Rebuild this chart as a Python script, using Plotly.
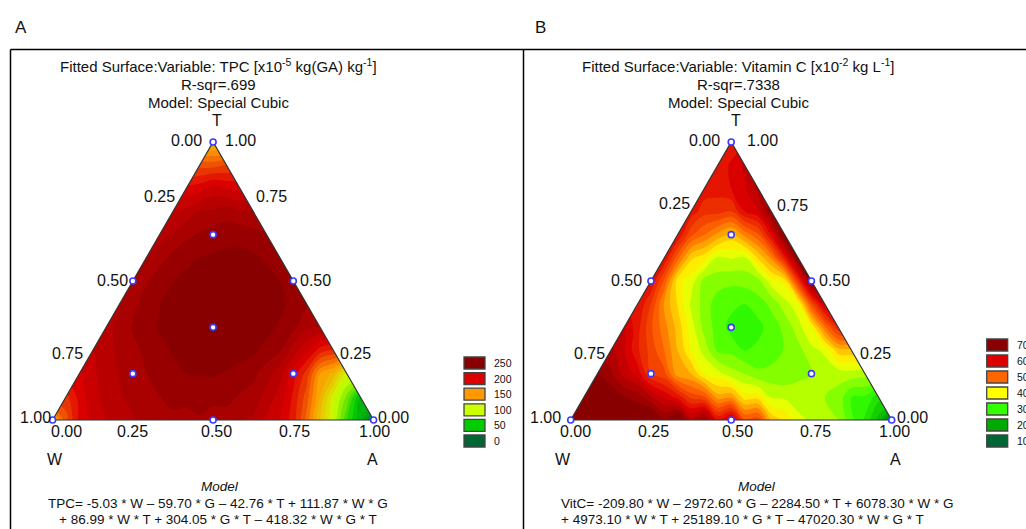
import math
import plotly.graph_objects as go

# ---------------- data ----------------
N = 12  # lattice: T = i/12 (row), A = j/12 (column), W = 1 - T - A
TPC_ROWS = [
    [140, 203, 220, 229, 234, 236, 235, 230, 218, 195, 130, 60, 5],
    [186, 217, 229, 238, 243, 245, 243, 236, 216, 175, 105, 40],
    [208, 226, 235, 244, 250, 251, 247, 235, 205, 150, 105],
    [220, 232, 242, 251, 256, 256, 252, 241, 212, 188],
    [227, 241, 251, 258, 259, 258, 254, 243, 230],
    [230, 246, 255, 259, 259, 258, 253, 242],
    [232, 246, 254, 257, 258, 254, 247],
    [230, 243, 250, 253, 252, 246],
    [226, 238, 245, 247, 242],
    [219, 231, 236, 232],
    [203, 214, 208],
    [176, 180],
    [135],
]
VITC_ROWS = [
    [72, 74, 75, 75, 74, 70, 64, 54, 42, 37, 35, 27, 12],
    [72, 72, 69, 62, 54, 46, 41, 37, 36, 35, 30, 26],
    [70, 64, 55, 46, 40, 36, 33, 33, 35, 36, 36],
    [66, 58, 50, 40, 32, 30, 31, 34, 38, 44],
    [63, 53, 44, 34, 29, 29, 33, 40, 57],
    [60, 47, 37, 31, 30, 33, 39, 63],
    [60, 41, 34, 33, 34, 41, 70],
    [60, 43, 37, 37, 48, 72],
    [60, 50, 44, 52, 72],
    [59, 56, 60, 70],
    [59, 60, 66],
    [59, 63],
    [59],
]

DESIGN_A = [0, 1, 0, 0.5, 0, 0.5, 1 / 3, 1 / 6, 2 / 3, 1 / 6]
DESIGN_T = [0, 0, 1, 0, 0.5, 0.5, 1 / 3, 1 / 6, 1 / 6, 2 / 3]

TICKS = [0.0, 0.25, 0.5, 0.75, 1.0]
TICK_TEXT = ["0.00", "0.25", "0.50", "0.75", "1.00"]

LEG_A_LEVELS = [250, 200, 150, 100, 50, 0]
LEG_A_COLORS = ["#880000", "#dd0000", "#ff9900", "#ccff00", "#00cc00", "#006633"]
LEG_B_LEVELS = [70, 60, 50, 40, 30, 20, 10]
LEG_B_COLORS = ["#880000", "#dd0000", "#ff6600", "#ffff00", "#33ff00", "#00aa00", "#006633"]

TITLE_A = ["Fitted Surface:Variable: TPC [x10<sup>-5</sup> kg(GA) kg<sup>-1</sup>]",
           "R-sqr=.699", "Model: Special Cubic"]
TITLE_B = ["Fitted Surface:Variable: Vitamin C [x10<sup>-2</sup> kg L<sup>-1</sup>]",
           "R-sqr=.7338", "Model: Special Cubic"]
EQ_A = ["TPC= -5.03 * W – 59.70 * G – 42.76 * T + 111.87 * W * G",
        "+ 86.99 * W * T + 304.05 * G * T – 418.32 * W * G * T"]
EQ_B = ["VitC= -209.80 * W – 2972.60 * G – 2284.50 * T + 6078.30 * W * G",
        "+ 4973.10 * W * T + 25189.10 * G * T – 47020.30 * W * G * T"]

# ---------------- layout constants (pixels) ----------------
FW, FH = 1026, 529
S = 321.0                 # px per unit composition
ORIG_A = (52.6, 420.0)    # W corner of panel A
ORIG_B = (570.7, 420.0)   # W corner of panel B
H = math.sqrt(3) / 2
FONT = "Liberation Sans, Arial, Helvetica, sans-serif"


def to_xy(a, t):
    return a + t / 2.0, t * H


def lattice(rows):
    """Lattice nodes of the triangle; the area outside the triangle (hidden by
    white masks) is padded with the row's edge value so that plotly's own gap
    filling only works inside the triangle."""
    xs, ys, zs = [], [], []
    for i, row in enumerate(rows):
        y = i * H / N
        first = i                       # half-step index of leftmost node
        last = 2 * (len(row) - 1) + i   # half-step index of rightmost node
        for k in range(0, first):
            xs.append(k / (2.0 * N)); ys.append(y); zs.append(row[0])
        for j, v in enumerate(row):
            xs.append((2 * j + i) / (2.0 * N)); ys.append(y); zs.append(v)
        for k in range(last + 1, 2 * N + 1):
            xs.append(k / (2.0 * N)); ys.append(y); zs.append(row[-1])
    return xs, ys, zs


def cscale(levels, colors):
    lo, hi = min(levels), max(levels)
    return [[(v - lo) / (hi - lo), c] for v, c in sorted(zip(levels, colors))]


def px_x(px):
    return px / FW


def px_y(py):
    return 1 - py / FH


fig = go.Figure()

panels = [
    dict(rows=TPC_ROWS, xa="x", ya="y", levels=LEG_A_LEVELS, colors=LEG_A_COLORS,
         start=0, end=250, size=10, orig=ORIG_A),
    dict(rows=VITC_ROWS, xa="x2", ya="y2", levels=LEG_B_LEVELS, colors=LEG_B_COLORS,
         start=10, end=70, size=2.5, orig=ORIG_B),
]

wx, wy = to_xy(0, 0)
ax_, ay_ = to_xy(1, 0)
tx, ty = to_xy(0, 1)
e = 0.02

for p in panels:
    xs, ys, zs = lattice(p["rows"])
    fig.add_trace(go.Contour(
        x=xs, y=ys, z=zs, xaxis=p["xa"], yaxis=p["ya"],
        colorscale=cscale(p["levels"], p["colors"]),
        autocontour=False,
        contours=dict(start=p["start"], end=p["end"], size=p["size"],
                      coloring="fill", showlines=False),
        line=dict(width=0, smoothing=1.0),
        connectgaps=True, showscale=False, hoverinfo="skip",
    ))
    # white masks outside the triangle
    fig.add_trace(go.Scatter(
        x=[wx, tx, tx, wx - e, wx - e, wx], y=[wy, ty, ty + e, ty + e, wy - e, wy],
        xaxis=p["xa"], yaxis=p["ya"], mode="lines", fill="toself",
        fillcolor="white", line=dict(width=0, color="white"), hoverinfo="skip",
        showlegend=False))
    fig.add_trace(go.Scatter(
        x=[ax_, tx, tx, ax_ + e, ax_ + e, ax_], y=[ay_, ty, ty + e, ty + e, ay_ - e, ay_],
        xaxis=p["xa"], yaxis=p["ya"], mode="lines", fill="toself",
        fillcolor="white", line=dict(width=0, color="white"), hoverinfo="skip",
        showlegend=False))
    # triangle outline
    fig.add_trace(go.Scatter(
        x=[wx, ax_, tx, wx], y=[wy, ay_, ty, wy], xaxis=p["xa"], yaxis=p["ya"],
        mode="lines", line=dict(color="#333333", width=1.2), hoverinfo="skip",
        showlegend=False))
    # design points
    dx = [to_xy(a, t)[0] for a, t in zip(DESIGN_A, DESIGN_T)]
    dy = [to_xy(a, t)[1] for a, t in zip(DESIGN_A, DESIGN_T)]
    fig.add_trace(go.Scatter(
        x=dx, y=dy, xaxis=p["xa"], yaxis=p["ya"], mode="markers",
        marker=dict(symbol="circle", size=6, color="white",
                    line=dict(color="#3a3aff", width=1.6)),
        hoverinfo="skip", showlegend=False))


def xrange_for(orig, d0, d1):
    return [(d0 * FW - orig[0]) / S, (d1 * FW - orig[0]) / S]


yr = [(ORIG_A[1] - FH) / S, ORIG_A[1] / S]
common = dict(visible=False, showgrid=False, zeroline=False, fixedrange=True)
fig.update_layout(
    xaxis=dict(domain=[0, 0.5], range=xrange_for(ORIG_A, 0, 0.5), **common),
    yaxis=dict(domain=[0, 1], range=yr, anchor="x", **common),
    xaxis2=dict(domain=[0.5, 1], range=xrange_for(ORIG_B, 0.5, 1), **common),
    yaxis2=dict(domain=[0, 1], range=yr, anchor="x2", **common),
)

ann = []
TICK_FONT = dict(family=FONT, size=16, color="#111")

# per-label offsets (px) as Statistica places them
LEFT_SHIFT = {"x": [(-9, 2), (4, 15), (-3, 1), (-8, -3), (0, 2.5)],
              "x2": [(-9, 2), (1, 8), (-7, 1), (-4, -3), (-8, 3)]}
RIGHT_SHIFT = {"x": [(10, 2), (1, 15), (5, 1), (5, -3), (2, 3)],
               "x2": [(14, 2), (4, 6.5), (6, 1), (6, -3), (3, 3)]}
BOTTOM_SHIFT = {"x": [14, 0, 3, 1, 1], "x2": [5, 3, 6, 4, 3]}

for p in panels:
    xr, yrf = p["xa"], p["ya"]
    for k, (v, txt) in enumerate(zip(TICKS, TICK_TEXT)):
        # left edge: W axis (W = v  -> T = 1 - v, A = 0)
        lx, ly = to_xy(0, 1 - v)
        sx, sy = LEFT_SHIFT[xr][k]
        ann.append(dict(x=lx, y=ly, xref=xr, yref=yrf, text=txt, showarrow=False,
                        xanchor="right", yanchor="middle", xshift=sx, yshift=sy,
                        font=TICK_FONT))
        # right edge: T axis (T = 1 - v listed from top)
        tv = 1 - v
        rx, ry = to_xy(1 - tv, tv)
        sx, sy = RIGHT_SHIFT[xr][k]
        ann.append(dict(x=rx, y=ry, xref=xr, yref=yrf, text=TICK_TEXT[len(TICKS) - 1 - k],
                        showarrow=False, xanchor="left", yanchor="middle",
                        xshift=sx, yshift=sy, font=TICK_FONT))
        # bottom edge: A axis
        bx, by = to_xy(v, 0)
        ann.append(dict(x=bx, y=by, xref=xr, yref=yrf, text=txt, showarrow=False,
                        xanchor="center", yanchor="middle",
                        xshift=BOTTOM_SHIFT[xr][k], yshift=-11, font=TICK_FONT))


def text_px(x, y, txt, size, xanchor="center", italic=False):
    ann.append(dict(x=px_x(x), y=px_y(y), xref="paper", yref="paper", text=txt,
                    showarrow=False, xanchor=xanchor, yanchor="middle",
                    font=dict(family=FONT, size=size, color="#111",
                              style="italic" if italic else "normal")))


# panel letters
text_px(21, 28, "A", 17)
text_px(540, 28, "B", 17)

# titles
for cx, lines, tcx in [(218, TITLE_A, 217), (738, TITLE_B, 736)]:
    for k, line in enumerate(lines):
        text_px(cx, 66 + 18.4 * k, line, 15)
    text_px(tcx, 121, "T", 16)

# corner names
for wxp, axp in [(55, 372), (563, 895)]:
    text_px(wxp, 459, "W", 16)
    text_px(axp, 459, "A", 16)

# equations
text_px(220, 486, "Model", 13.5, italic=True)
text_px(218, 503, EQ_A[0], 13.5)
text_px(218, 519, EQ_A[1], 13.5)
text_px(757, 486, "Model", 13.5, italic=True)
text_px(559, 503, EQ_B[0], 13.5, xanchor="left")
text_px(559, 519, EQ_B[1], 13.5, xanchor="left")

# legends (boxes + labels)
shapes = []
for levels, colors, bx0, pitch in [(LEG_A_LEVELS, LEG_A_COLORS, 464, 15.6),
                                   (LEG_B_LEVELS, LEG_B_COLORS, 986.7, 16.0)]:
    n = len(levels)
    for k, (lv, col) in enumerate(zip(levels, colors)):
        top = 435 - (n - 1 - k) * pitch
        shapes.append(dict(type="rect", xref="paper", yref="paper",
                           x0=px_x(bx0), x1=px_x(bx0 + 21), y0=px_y(top + 12), y1=px_y(top),
                           fillcolor=col, line=dict(color="#444444", width=1.3)))
        ann.append(dict(x=px_x(bx0 + 28), y=px_y(top + 6), xref="paper", yref="paper",
                        text=str(lv), showarrow=False, xanchor="left", yanchor="middle",
                        font=dict(family=FONT, size=10.5, color="#111")))

# panel frames
for x0, y0, x1, y1 in [(10.5, 49.5, 1026, 49.5), (10.5, 49.5, 10.5, 529),
                       (523.5, 49.5, 523.5, 529)]:
    shapes.append(dict(type="line", xref="paper", yref="paper",
                       x0=px_x(x0), y0=px_y(y0), x1=px_x(x1), y1=px_y(y1),
                       line=dict(color="black", width=1.5)))

fig.update_layout(
    width=FW, height=FH, margin=dict(l=0, r=0, t=0, b=0),
    paper_bgcolor="white", plot_bgcolor="white", showlegend=False,
    annotations=ann, shapes=shapes, font=dict(family=FONT),
)

fig.write_html("out.html", config={"displayModeBar": False},
               post_script="document.body.style.margin='0px';document.body.style.overflow='hidden';")
